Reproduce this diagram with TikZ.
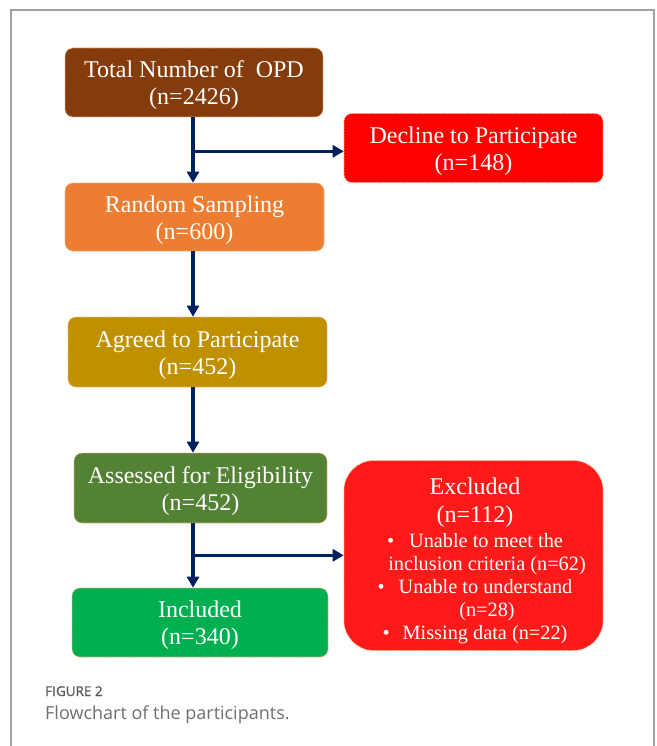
\documentclass[tikz,border=0pt]{standalone}
\usepackage{fontspec}
\setmainfont{Liberation Serif}
\newfontfamily\capfont{Open Sans}
\newfontfamily\capfontb[FakeBold=1.3]{Open Sans}
\usetikzlibrary{arrows.meta}
\definecolor{cBrown}{HTML}{843C0C}
\definecolor{cRed}{HTML}{FF0000}
\definecolor{cRedB}{HTML}{FF1A1A}
\definecolor{cOrange}{HTML}{ED7D31}
\definecolor{cGold}{HTML}{BF9000}
\definecolor{cDGreen}{HTML}{548235}
\definecolor{cGreen}{HTML}{00B050}
\definecolor{cNavy}{HTML}{002060}
\definecolor{cEdge}{HTML}{F4B183}
\definecolor{cFrame}{HTML}{A0A0A0}
\definecolor{cCapA}{HTML}{5A5A5A}
\definecolor{cCapB}{HTML}{6E6E6E}
\newcommand{\toppad}{\rule{0pt}{22.5pt}}
\tikzset{
  flowbox/.style={rectangle, rounded corners=8pt, draw=cEdge, dash pattern=on 2pt off 1pt,
    line width=0.6pt, text=white, align=center, inner sep=0pt,
    font=\fontsize{24}{27}\selectfont},
  arr/.style={draw=cNavy, line width=3.2pt, -{Triangle[length=11pt,width=12pt]}},
  capA/.style={anchor=base west, inner sep=0pt, text=cCapA, font=\capfontb\fontsize{13.5}{16}\selectfont},
  capB/.style={anchor=base west, inner sep=0pt, text=cCapB, font=\capfont\fontsize{18}{21}\selectfont}
}
\begin{document}
\begin{tikzpicture}[x=1pt,y=-1pt]
\useasboundingbox (0,0) rectangle (656,746);
\draw[cFrame, line width=1.2pt] (11,746) -- (11,10) -- (654,10) -- (654,746);

\node[flowbox, fill=cBrown, minimum width=258pt, minimum height=69pt] (total) at (194,82.5) {\toppad Total Number of\ \ OPD\\(n=2426)};
\node[flowbox, fill=cRed, minimum width=259pt, minimum height=69pt] (decline) at (473.5,148) {\toppad Decline to Participate\\(n=148)};
\node[flowbox, fill=cOrange, minimum width=259pt, minimum height=68pt] (random) at (194.5,217) {\toppad Random Sampling\\(n=600)};
\node[flowbox, fill=cGold, minimum width=259pt, minimum height=70pt] (agreed) at (197.5,352) {\toppad Agreed to Participate\\(n=452)};
\node[flowbox, fill=cDGreen, minimum width=253pt, minimum height=70pt] (assessed) at (200.5,488) {\toppad Assessed for Eligibility\\(n=452)};
\node[flowbox, fill=cGreen, minimum width=256pt, minimum height=69pt] (included) at (200,622.5) {\toppad Included\\(n=340)};
\node[flowbox, fill=cRedB, rounded corners=30pt, minimum width=259pt, minimum height=190pt] (excluded) at (473.5,555.5) {};
\node[text=white, align=center, inner sep=0pt, font=\fontsize{20.3}{23}\selectfont] (exctext) at (475,561)
  {{\fontsize{24}{27}\selectfont Excluded}\\[4.5pt]
   {\fontsize{24}{27}\selectfont (n=112)}\\[2pt]
   \textbullet\hspace{15pt}Unable to meet the\\
   \hspace*{24pt}inclusion criteria (n=62)\\
   \textbullet\hspace{14pt}Unable to understand\\
   \hspace*{24pt}(n=28)\\
   \textbullet\hspace{13pt}Missing data (n=22)};

\coordinate (vx) at (193,0);
\draw[arr] (total.south -| vx) -- (random.north -| vx);
\path (total.south -| vx) ++(0,34) coordinate (b1);
\draw[arr] (b1) -- (b1 -| decline.west);
\draw[arr] (random.south -| vx) -- (agreed.north -| vx);
\draw[arr] (agreed.south -| vx) -- (assessed.north -| vx);
\draw[arr] (assessed.south -| vx) -- (included.north -| vx);
\path (assessed.south -| vx) ++(0,32) coordinate (b2);
\draw[arr] (b2) -- (b2 -| excluded.west);

\node[capA] (fig) at (45,696) {FIGURE 2};
\node[capB] (cap) at (45,719) {Flowchart of the participants.};
\end{tikzpicture}
\end{document}
